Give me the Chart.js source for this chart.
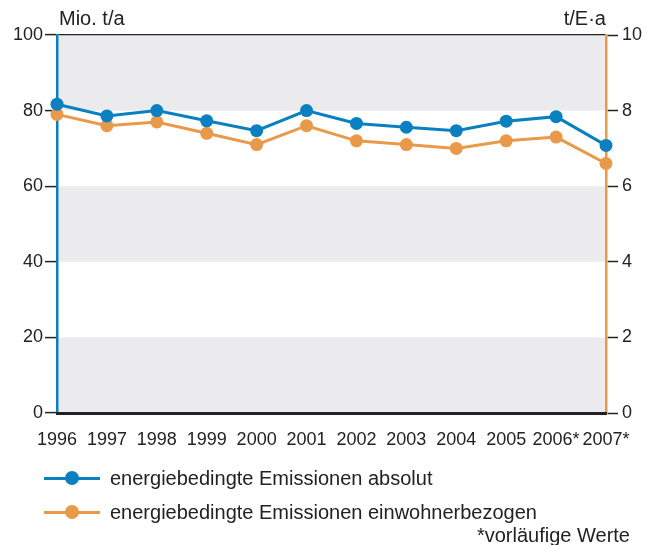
<!DOCTYPE html>
<html>
<head>
<meta charset="utf-8">
<script src="https://cdn.jsdelivr.net/npm/chart.js@4.4.1/dist/chart.umd.min.js"></script>
<style>
  html, body { margin: 0; padding: 0; background: #fff; }
  body { width: 654px; height: 545px; position: relative; overflow: hidden;
         font-family: "Liberation Sans", Arial, sans-serif; color: #222; }
  #chart { position: absolute; left: 0; top: 0; }
  .lbl { position: absolute; font-size: 20px; line-height: 20px; white-space: nowrap; }
  .legend-row { position: absolute; left: 44px; height: 22px; }
  .legend-row .line { position: absolute; left: 0; top: 9.5px; width: 56px; height: 3px; }
  .legend-row .dot { position: absolute; left: 21px; top: 4px; width: 14px; height: 14px; border-radius: 50%; }
  .legend-row .text { position: absolute; left: 66px; top: 0; font-size: 20px; line-height: 22px; white-space: nowrap; }
</style>
</head>
<body>
<canvas id="chart" width="654" height="545"></canvas>
<div class="lbl" style="left:59px; top:8px;">Mio. t/a</div>
<div class="lbl" style="right:48px; top:8px;">t/E·a</div>
<div id="legend"></div>
<div class="lbl" style="right:24px; top:525px;">*vorläufige Werte</div>
<script>
const years = ['1996', '1997', '1998', '1999', '2000', '2001', '2002', '2003', '2004', '2005', '2006*', '2007*'];
const absolut = [81.7, 78.6, 80.0, 77.3, 74.7, 80.0, 76.6, 75.6, 74.7, 77.2, 78.4, 70.8];
const einwohner = [7.9, 7.6, 7.7, 7.4, 7.1, 7.6, 7.2, 7.1, 7.0, 7.2, 7.3, 6.6];
const seriesNames = ['energiebedingte Emissionen absolut', 'energiebedingte Emissionen einwohnerbezogen'];
const leftTicks = [0, 20, 40, 60, 80, 100];
const rightTicks = [0, 2, 4, 6, 8, 10];
const grayBands = [[0, 20], [40, 60], [80, 100]];

const BLUE = '#0a80c0';
const ORANGE = '#e8994a';
const DARK = '#222222';
const BAND = '#ebebed';
const FONT = { family: '"Liberation Sans", Arial, sans-serif', size: 18 };

const bandsPlugin = {
    id: 'bands',
    beforeDraw(chart) {
        const ctx = chart.ctx;
        const area = chart.chartArea;
        const y = chart.scales.y;
        ctx.save();
        ctx.fillStyle = BAND;
        grayBands.forEach(b => {
            const top = y.getPixelForValue(b[1]);
            const bottom = y.getPixelForValue(b[0]);
            ctx.fillRect(area.left, top, area.right - area.left, bottom - top);
        });
        ctx.restore();
    }
};

// legend built from the series names
const legend = document.getElementById('legend');
[BLUE, ORANGE].forEach((color, i) => {
    const row = document.createElement('div');
    row.className = 'legend-row';
    row.style.top = (467 + i * 34) + 'px';
    row.innerHTML = '<div class="line" style="background:' + color + '"></div>' +
        '<div class="dot" style="background:' + color + '"></div>' +
        '<div class="text">' + seriesNames[i] + '</div>';
    legend.appendChild(row);
});

new Chart(document.getElementById('chart'), {
    type: 'line',
    data: {
        labels: years,
        datasets: [
            {
                label: seriesNames[0],
                data: absolut,
                yAxisID: 'y',
                borderColor: BLUE,
                backgroundColor: BLUE,
                borderWidth: 3,
                pointRadius: 6.5,
                pointBorderWidth: 0,
                tension: 0,
                clip: false
            },
            {
                label: seriesNames[1],
                data: einwohner,
                yAxisID: 'y2',
                borderColor: ORANGE,
                backgroundColor: ORANGE,
                borderWidth: 3,
                pointRadius: 6.5,
                pointBorderWidth: 0,
                tension: 0,
                clip: false
            }
        ]
    },
    options: {
        responsive: false,
        animation: false,
        layout: { padding: { top: 35, bottom: 82, left: 0, right: 0 } },
        plugins: { legend: { display: false }, tooltip: { enabled: false } },
        scales: {
            x: {
                offset: false,
                grid: { display: false },
                border: { display: true, color: DARK, width: 3, z: 1 },
                ticks: { color: DARK, font: FONT, padding: 8, maxRotation: 0, autoSkip: false },
                afterFit(scale) { scale.height = 50; }
            },
            y: {
                position: 'left',
                min: 0,
                max: 100,
                afterBuildTicks(scale) { scale.ticks = leftTicks.map(v => ({ value: v })); },
                grid: {
                    drawOnChartArea: true,
                    color: c => (c.tick && c.tick.value === 100) ? DARK : 'rgba(0,0,0,0)',
                    lineWidth: 1.2,
                    tickColor: DARK,
                    tickLength: 12,
                    tickWidth: 1.5
                },
                border: { color: BLUE, width: 2.5 },
                ticks: { color: DARK, font: FONT, padding: 2 },
                afterFit(scale) { scale.width = 57; }
            },
            y2: {
                position: 'right',
                min: 0,
                max: 10,
                afterBuildTicks(scale) { scale.ticks = rightTicks.map(v => ({ value: v })); },
                grid: {
                    drawOnChartArea: false,
                    tickColor: DARK,
                    tickLength: 12,
                    tickWidth: 1.5
                },
                border: { color: ORANGE, width: 2.5 },
                ticks: { color: DARK, font: FONT, padding: 4 },
                afterFit(scale) { scale.width = 48; }
            }
        }
    },
    plugins: [bandsPlugin]
});
</script>
</body>
</html>
